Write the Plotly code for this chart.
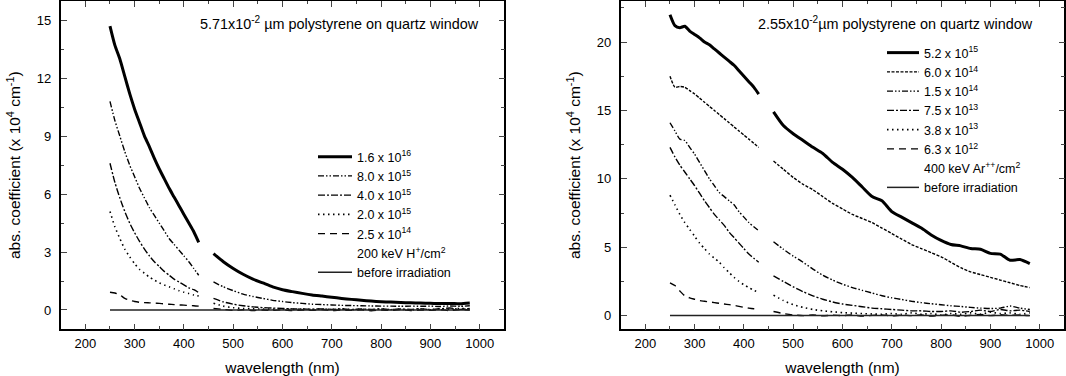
import plotly.graph_objects as go

# wavelength grids (nm): two detector ranges with a gap between 430 and 460
wl_a = [250, 260, 270, 280, 290, 300, 310, 320, 330, 340, 350, 360, 370, 380, 390, 400, 410, 420, 430]
wl_b = [460, 480, 500, 520, 540, 560, 580, 600, 620, 640, 660, 680, 700, 720, 740, 760, 780, 800,
        820, 840, 860, 880, 900, 920, 940, 960, 980]
wl_base = [250, 980]
base = [0, 0]

# left panel: 200 keV H+ on 5.71e-2 um polystyrene (abs. coeff. x 1e4 cm^-1)
h_16e16_a = [14.7, 13.7, 13.0, 12.1, 11.2, 10.4, 9.7, 9.0, 8.45, 7.85, 7.3, 6.8, 6.3, 5.85, 5.4, 4.95, 4.5, 4.05, 3.5]
h_16e16_b = [2.92, 2.5, 2.15, 1.85, 1.6, 1.4, 1.2, 1.05, 0.95, 0.86, 0.78, 0.72, 0.66, 0.6, 0.55, 0.5,
             0.46, 0.43, 0.41, 0.39, 0.37, 0.36, 0.35, 0.33, 0.34, 0.32, 0.36]
h_80e15_a = [10.8, 9.8, 9.0, 8.2, 7.5, 6.9, 6.3, 5.8, 5.3, 4.9, 4.5, 4.1, 3.7, 3.4, 3.1, 2.8, 2.5, 2.15, 1.8]
h_80e15_b = [1.45, 1.2, 1.0, 0.82, 0.7, 0.6, 0.5, 0.44, 0.38, 0.34, 0.3, 0.28, 0.26, 0.24, 0.23, 0.22,
             0.21, 0.2, 0.2, 0.19, 0.2, 0.19, 0.2, 0.18, 0.21, 0.19, 0.22]
h_40e15_a = [7.6, 6.6, 5.8, 5.1, 4.5, 4.0, 3.55, 3.15, 2.8, 2.5, 2.25, 2.0, 1.8, 1.6, 1.45, 1.3, 1.15, 1.05, 0.9]
h_40e15_b = [0.6, 0.42, 0.3, 0.22, 0.16, 0.12, 0.1, 0.08, 0.06, 0.05, 0.04, 0.06, 0.03, 0.05, 0.02, 0.05,
             0.03, 0.06, 0.02, 0.05, 0.03, 0.07, 0.02, 0.06, 0.1, 0.03, 0.08]
h_20e15_a = [5.1, 4.3, 3.7, 3.15, 2.75, 2.4, 2.1, 1.9, 1.7, 1.55, 1.4, 1.3, 1.2, 1.1, 1.0, 0.92, 0.85, 0.78, 0.72]
h_20e15_b = [0.35, 0.2, 0.12, 0.08, 0.06, 0.05, 0.04, 0.06, 0.03, 0.05, 0.02, 0.05, 0.03, 0.06, 0.02, 0.04,
             0.01, 0.05, 0.02, 0.04, 0.0, 0.05, 0.02, 0.06, 0.03, 0.08, 0.05]
h_25e14_a = [0.92, 0.88, 0.78, 0.6, 0.5, 0.44, 0.4, 0.38, 0.37, 0.36, 0.34, 0.32, 0.3, 0.28, 0.26, 0.25, 0.23, 0.22, 0.2]
h_25e14_b = [0.08, 0.03, -0.02, 0.01, -0.03, 0.0, -0.02, 0.01, -0.03, 0.0, -0.02, 0.02, -0.03, 0.0, -0.02, 0.01,
             -0.04, 0.0, -0.02, 0.02, -0.03, 0.0, -0.02, 0.01, -0.03, 0.02, 0.0]

# right panel: 400 keV Ar++ on 2.55e-2 um polystyrene
ar_52e15_a = [22.0, 21.2, 21.05, 21.15, 20.8, 20.55, 20.3, 20.0, 19.8, 19.5, 19.2, 18.9, 18.6, 18.3, 17.9, 17.5, 17.1, 16.7, 16.2]
ar_52e15_b = [14.9, 13.9, 13.3, 12.8, 12.3, 11.85, 11.2, 10.7, 10.1, 9.4, 8.7, 8.4, 7.6, 7.2, 6.8, 6.4,
              5.9, 5.5, 5.2, 5.1, 4.9, 4.85, 4.55, 4.5, 4.05, 4.1, 3.8]
ar_60e14_a = [17.5, 16.7, 16.75, 16.7, 16.45, 16.2, 15.9, 15.6, 15.3, 15.0, 14.7, 14.4, 14.1, 13.8, 13.5, 13.2, 12.9, 12.6, 12.3]
ar_60e14_b = [11.3, 10.7, 10.1, 9.6, 9.2, 8.7, 8.2, 7.8, 7.4, 7.1, 6.8, 6.4, 6.0, 5.6, 5.2, 4.9,
              4.6, 4.3, 3.9, 3.5, 3.2, 3.0, 2.8, 2.6, 2.4, 2.2, 2.05]
ar_15e14_a = [14.1, 13.5, 12.9, 12.8, 12.3, 11.8, 11.2, 10.6, 10.0, 9.5, 9.0, 8.7, 8.4, 8.1, 7.6, 7.2, 6.8, 6.5, 6.2]
ar_15e14_b = [5.4, 4.85, 4.35, 3.9, 3.4, 2.95, 2.6, 2.3, 2.05, 1.85, 1.65, 1.45, 1.3, 1.18, 1.05, 0.95,
              0.87, 0.8, 0.72, 0.67, 0.6, 0.55, 0.52, 0.55, 0.7, 0.55, 0.45]
ar_75e13_a = [12.3, 11.6, 11.0, 10.5, 10.0, 9.5, 8.95, 8.4, 7.9, 7.4, 7.0, 6.6, 6.1, 5.7, 5.3, 4.9, 4.5, 4.2, 3.9]
ar_75e13_b = [2.9, 2.5, 2.1, 1.75, 1.45, 1.2, 1.0, 0.85, 0.75, 0.65, 0.55, 0.5, 0.45, 0.4, 0.35, 0.35,
              0.3, 0.3, 0.35, 0.25, 0.3, 0.4, 0.3, 0.45, 0.35, 0.4, 0.3]
ar_38e13_a = [8.8, 8.1, 7.4, 6.8, 6.3, 5.8, 5.3, 4.9, 4.5, 4.2, 3.9, 3.5, 3.15, 2.8, 2.5, 2.25, 2.05, 1.85, 1.7]
ar_38e13_b = [1.5, 1.1, 0.8, 0.6, 0.45, 0.35, 0.28, 0.22, 0.18, 0.15, 0.12, 0.1, 0.15, 0.1, 0.2, 0.1,
              0.15, 0.05, 0.15, 0.1, 0.2, 0.1, 0.25, 0.15, 0.2, 0.1, 0.2]
ar_63e12_a = [2.4, 2.2, 1.8, 1.45, 1.3, 1.2, 1.1, 1.05, 1.0, 0.95, 0.9, 0.85, 0.8, 0.75, 0.68, 0.6, 0.55, 0.5, 0.45]
ar_63e12_b = [0.3, 0.15, 0.05, 0.0, 0.05, -0.02, 0.03, 0.0, 0.05, -0.03, 0.02, 0.05, -0.02, 0.04, 0.0, 0.05,
              -0.03, 0.02, 0.06, -0.05, 0.03, 0.08, 0.0, 0.06, 0.02, 0.05, 0.0]

FONT = "Arial, Liberation Sans, sans-serif"

DASH_DDOT = "6px,2px,1.5px,2px,1.5px,2px"
DASH_DOT = "7px,2px,2px,2px"
DOT = "1.5px,3.5px"
DASH = "7px,5px"
SHORT = "3px,1.5px"


def joined(a, b):
    return a + [None] + b


def series(name, ya, yb, dash, width, leg, xa="x", ya_ax="y"):
    return go.Scatter(x=joined(wl_a, wl_b), y=joined(ya, yb), mode="lines", name=name,
                      line=dict(color="black", width=width, dash=dash, shape="spline", smoothing=0.6),
                      legend=leg, xaxis=xa, yaxis=ya_ax, connectgaps=False)


def label_only(name, leg, xa, ya_ax):
    return go.Scatter(x=[None], y=[None], mode="lines", name=name,
                      line=dict(color="rgba(0,0,0,0)", width=1), legend=leg, xaxis=xa, yaxis=ya_ax)


def base_line(leg, xa, ya_ax):
    return go.Scatter(x=wl_base, y=base, mode="lines", name="before irradiation",
                      line=dict(color="#222", width=1.5), legend=leg, xaxis=xa, yaxis=ya_ax)


fig = go.Figure()
L = "legend"
fig.add_trace(series("1.6 x 10<sup>16</sup>", h_16e16_a, h_16e16_b, "solid", 3, L))
fig.add_trace(series("8.0 x 10<sup>15</sup>", h_80e15_a, h_80e15_b, DASH_DDOT, 1.4, L))
fig.add_trace(series("4.0 x 10<sup>15</sup>", h_40e15_a, h_40e15_b, DASH_DOT, 1.4, L))
fig.add_trace(series("2.0 x 10<sup>15</sup>", h_20e15_a, h_20e15_b, DOT, 1.6, L))
fig.add_trace(series("2.5 x 10<sup>14</sup>", h_25e14_a, h_25e14_b, DASH, 1.4, L))
fig.add_trace(label_only("200 keV H<sup>+</sup>/cm<sup>2</sup>", L, "x", "y"))
fig.add_trace(base_line(L, "x", "y"))

R = "legend2"
fig.add_trace(series("5.2 x 10<sup>15</sup>", ar_52e15_a, ar_52e15_b, "solid", 3, R, "x2", "y2"))
fig.add_trace(series("6.0 x 10<sup>14</sup>", ar_60e14_a, ar_60e14_b, SHORT, 1.4, R, "x2", "y2"))
fig.add_trace(series("1.5 x 10<sup>14</sup>", ar_15e14_a, ar_15e14_b, DASH_DDOT, 1.4, R, "x2", "y2"))
fig.add_trace(series("7.5 x 10<sup>13</sup>", ar_75e13_a, ar_75e13_b, DASH_DOT, 1.4, R, "x2", "y2"))
fig.add_trace(series("3.8 x 10<sup>13</sup>", ar_38e13_a, ar_38e13_b, DOT, 1.6, R, "x2", "y2"))
fig.add_trace(series("6.3 x 10<sup>12</sup>", ar_63e12_a, ar_63e12_b, DASH, 1.4, R, "x2", "y2"))
fig.add_trace(label_only("400 keV Ar<sup>++</sup>/cm<sup>2</sup>", R, "x2", "y2"))
fig.add_trace(base_line(R, "x2", "y2"))

W, H = 1066, 376


def xaxis(domain, anchor):
    return dict(domain=domain, anchor=anchor, range=[150, 1050], dtick=100, tick0=0,
                ticks="inside", ticklen=6, tickwidth=1.4, mirror="ticks", showline=True,
                linecolor="black", linewidth=1.6, showgrid=False, zeroline=False,
                ticklabelstandoff=1,
                minor=dict(dtick=50, ticks="inside", ticklen=3.5, tickwidth=1.2),
                tickfont=dict(size=13, color="black"),
                title=dict(text="wavelength (nm)", font=dict(size=15.5, color="black"), standoff=12))


def yaxis(domain, anchor, rng, dtick):
    return dict(domain=domain, anchor=anchor, range=rng, dtick=dtick, tick0=0,
                ticks="inside", ticklen=6, tickwidth=1.4, mirror="ticks", showline=True,
                linecolor="black", linewidth=1.6, showgrid=False, zeroline=False,
                ticklabelstandoff=5,
                minor=dict(dtick=dtick / 2, ticks="inside", ticklen=3.5, tickwidth=1.2),
                tickfont=dict(size=13, color="black"),
                title=dict(text="abs. coefficient (x 10<sup>4</sup> cm<sup>-1</sup>)",
                           font=dict(size=15.5, color="black"), standoff=12))


ydom = [1 - 329.3 / H, 1 - 1 / H]
fig.update_layout(
    width=W, height=H, margin=dict(l=0, r=0, t=0, b=0, autoexpand=False),
    paper_bgcolor="white", plot_bgcolor="white",
    font=dict(family=FONT, color="black"),
    xaxis=xaxis([60.7 / W, 504.3 / W], "y"),
    yaxis=yaxis(ydom, "x", [-1, 16], 3),
    xaxis2=xaxis([620.7 / W, 1064.3 / W], "y2"),
    yaxis2=yaxis(ydom, "x2", [-1, 23], 5),
    legend=dict(x=313 / W, y=1 - 142 / H, xanchor="left", yanchor="top",
                bgcolor="rgba(0,0,0,0)", font=dict(size=12.5, color="black"),
                itemwidth=34, tracegroupgap=0),
    legend2=dict(x=882 / W, y=1 - 38 / H, xanchor="left", yanchor="top",
                 bgcolor="rgba(0,0,0,0)", font=dict(size=12.5, color="black"),
                 itemwidth=32, tracegroupgap=0),
    annotations=[
        dict(text="5.71x10<sup>-2</sup> \u00b5m polystyrene on quartz window", xref="paper", yref="paper",
             x=481 / W, y=1 - 22.7 / H, xanchor="right", yanchor="middle", showarrow=False,
             font=dict(size=14.4, color="black")),
        dict(text="2.55x10<sup>-2</sup>\u00b5m polystyrene on quartz window", xref="paper", yref="paper",
             x=1035 / W, y=1 - 22.7 / H, xanchor="right", yanchor="middle", showarrow=False,
             font=dict(size=14.4, color="black")),
    ],
)

# the page body has a default 8px margin; remove it so the figure fills the window
fig.write_html("out.html", config={"displayModeBar": False},
               post_script="document.body.style.margin='0';")
